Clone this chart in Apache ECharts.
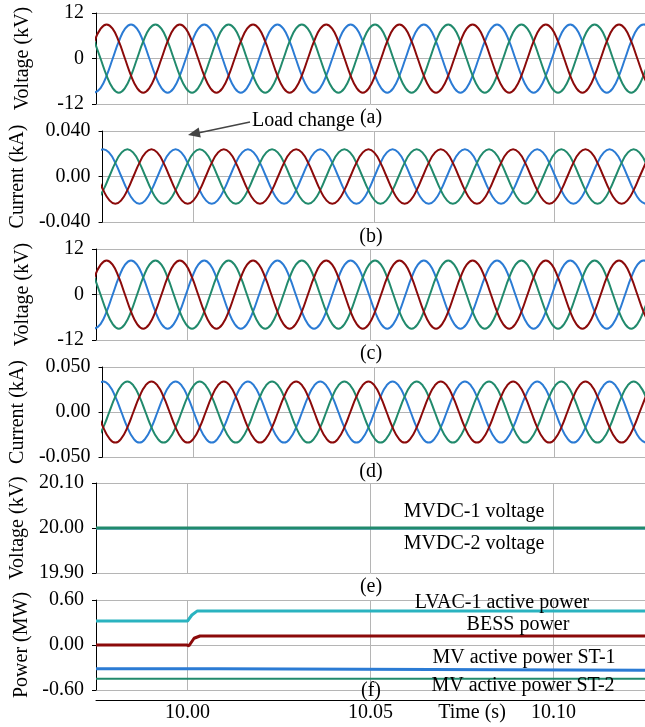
<!DOCTYPE html>
<html>
<head>
<meta charset="utf-8">
<script src="https://cdn.jsdelivr.net/npm/echarts@6/dist/echarts.min.js"></script>
<style>
html,body{margin:0;padding:0;background:#fff;}
#chart{width:645px;height:727px;}
</style>
</head>
<body>
<div id="chart"></div>
<script>
// ---- sample times (uniform 50 Hz sampling, 1/600 s) ----
const sampleStep = 1 / 600;
const voltStart = 9.97457;
const currStart = 9.97353;
const nSamples = 92;
const timeV = Array.from({length: nSamples}, (_, k) => voltStart + k * sampleStep);
const timeI = Array.from({length: nSamples}, (_, k) => currStart + k * sampleStep);

// ---- (a) voltage, kV ----
const voltA_red = [4.5,7.8,9,7.8,4.5,0,-4.5,-7.8,-9,-7.8,-4.5,0, 4.5,7.8,9,7.8,4.5,0,-4.5,-7.8,-9,-7.8,-4.5,0, 4.5,7.8,9,7.8,4.5,0,-4.5,-7.8,-9,-7.8,-4.5,0, 4.5,7.8,9,7.8,4.5,0,-4.5,-7.8,-9,-7.8,-4.5,0, 4.5,7.8,9,7.8,4.5,0,-4.5,-7.8,-9,-7.8,-4.5,0, 4.5,7.8,9,7.8,4.5,0,-4.5,-7.8,-9,-7.8,-4.5,0, 4.5,7.8,9,7.8,4.5,0,-4.5,-7.8,-9,-7.8,-4.5,0, 4.5,7.8,9,7.8,4.5,0,-4.5,-7.8];
const voltA_blue = [-9,-7.8,-4.5,0,4.5,7.8,9,7.8,4.5,0,-4.5,-7.8, -9,-7.8,-4.5,0,4.5,7.8,9,7.8,4.5,0,-4.5,-7.8, -9,-7.8,-4.5,0,4.5,7.8,9,7.8,4.5,0,-4.5,-7.8, -9,-7.8,-4.5,0,4.5,7.8,9,7.8,4.5,0,-4.5,-7.8, -9,-7.8,-4.5,0,4.5,7.8,9,7.8,4.5,0,-4.5,-7.8, -9,-7.8,-4.5,0,4.5,7.8,9,7.8,4.5,0,-4.5,-7.8, -9,-7.8,-4.5,0,4.5,7.8,9,7.8,4.5,0,-4.5,-7.8, -9,-7.8,-4.5,0,4.5,7.8,9,7.8];
const voltA_green = [4.5,0,-4.5,-7.8,-9,-7.8,-4.5,0,4.5,7.8,9,7.8, 4.5,0,-4.5,-7.8,-9,-7.8,-4.5,0,4.5,7.8,9,7.8, 4.5,0,-4.5,-7.8,-9,-7.8,-4.5,0,4.5,7.8,9,7.8, 4.5,0,-4.5,-7.8,-9,-7.8,-4.5,0,4.5,7.8,9,7.8, 4.5,0,-4.5,-7.8,-9,-7.8,-4.5,0,4.5,7.8,9,7.8, 4.5,0,-4.5,-7.8,-9,-7.8,-4.5,0,4.5,7.8,9,7.8, 4.5,0,-4.5,-7.8,-9,-7.8,-4.5,0,4.5,7.8,9,7.8, 4.5,0,-4.5,-7.8,-9,-7.8,-4.5,0];

// ---- (b) current, kA ----
const currB_blue = [0.0208,0.024,0.0208,0.012,0,-0.012,-0.0208,-0.024,-0.0208,-0.012,0,0.012, 0.0208,0.024,0.0208,0.012,0,-0.012,-0.0208,-0.024,-0.0208,-0.012,0,0.012, 0.0208,0.024,0.0208,0.012,0,-0.012,-0.0208,-0.024,-0.0208,-0.012,0,0.012, 0.0208,0.024,0.0208,0.012,0,-0.012,-0.0208,-0.024,-0.0208,-0.012,0,0.012, 0.0208,0.024,0.0208,0.012,0,-0.012,-0.0208,-0.024,-0.0208,-0.012,0,0.012, 0.0208,0.024,0.0208,0.012,0,-0.012,-0.0208,-0.024,-0.0208,-0.012,0,0.012, 0.0208,0.024,0.0208,0.012,0,-0.012,-0.0208,-0.024,-0.0208,-0.012,0,0.012, 0.0208,0.024,0.0208,0.012,0,-0.012,-0.0208,-0.024];
const currB_green = [-0.0208,-0.012,0,0.012,0.0208,0.024,0.0208,0.012,0,-0.012,-0.0208,-0.024, -0.0208,-0.012,0,0.012,0.0208,0.024,0.0208,0.012,0,-0.012,-0.0208,-0.024, -0.0208,-0.012,0,0.012,0.0208,0.024,0.0208,0.012,0,-0.012,-0.0208,-0.024, -0.0208,-0.012,0,0.012,0.0208,0.024,0.0208,0.012,0,-0.012,-0.0208,-0.024, -0.0208,-0.012,0,0.012,0.0208,0.024,0.0208,0.012,0,-0.012,-0.0208,-0.024, -0.0208,-0.012,0,0.012,0.0208,0.024,0.0208,0.012,0,-0.012,-0.0208,-0.024, -0.0208,-0.012,0,0.012,0.0208,0.024,0.0208,0.012,0,-0.012,-0.0208,-0.024, -0.0208,-0.012,0,0.012,0.0208,0.024,0.0208,0.012];
const currB_red = [0,-0.012,-0.0208,-0.024,-0.0208,-0.012,0,0.012,0.0208,0.024,0.0208,0.012, 0,-0.012,-0.0208,-0.024,-0.0208,-0.012,0,0.012,0.0208,0.024,0.0208,0.012, 0,-0.012,-0.0208,-0.024,-0.0208,-0.012,0,0.012,0.0208,0.024,0.0208,0.012, 0,-0.012,-0.0208,-0.024,-0.0208,-0.012,0,0.012,0.0208,0.024,0.0208,0.012, 0,-0.012,-0.0208,-0.024,-0.0208,-0.012,0,0.012,0.0208,0.024,0.0208,0.012, 0,-0.012,-0.0208,-0.024,-0.0208,-0.012,0,0.012,0.0208,0.024,0.0208,0.012, 0,-0.012,-0.0208,-0.024,-0.0208,-0.012,0,0.012,0.0208,0.024,0.0208,0.012, 0,-0.012,-0.0208,-0.024,-0.0208,-0.012,0,0.012];

// ---- (c) voltage, kV ----
const voltC_red = [4.5,7.8,9,7.8,4.5,0,-4.5,-7.8,-9,-7.8,-4.5,0, 4.5,7.8,9,7.8,4.5,0,-4.5,-7.8,-9,-7.8,-4.5,0, 4.5,7.8,9,7.8,4.5,0,-4.5,-7.8,-9,-7.8,-4.5,0, 4.5,7.8,9,7.8,4.5,0,-4.5,-7.8,-9,-7.8,-4.5,0, 4.5,7.8,9,7.8,4.5,0,-4.5,-7.8,-9,-7.8,-4.5,0, 4.5,7.8,9,7.8,4.5,0,-4.5,-7.8,-9,-7.8,-4.5,0, 4.5,7.8,9,7.8,4.5,0,-4.5,-7.8,-9,-7.8,-4.5,0, 4.5,7.8,9,7.8,4.5,0,-4.5,-7.8];
const voltC_blue = [-9,-7.8,-4.5,0,4.5,7.8,9,7.8,4.5,0,-4.5,-7.8, -9,-7.8,-4.5,0,4.5,7.8,9,7.8,4.5,0,-4.5,-7.8, -9,-7.8,-4.5,0,4.5,7.8,9,7.8,4.5,0,-4.5,-7.8, -9,-7.8,-4.5,0,4.5,7.8,9,7.8,4.5,0,-4.5,-7.8, -9,-7.8,-4.5,0,4.5,7.8,9,7.8,4.5,0,-4.5,-7.8, -9,-7.8,-4.5,0,4.5,7.8,9,7.8,4.5,0,-4.5,-7.8, -9,-7.8,-4.5,0,4.5,7.8,9,7.8,4.5,0,-4.5,-7.8, -9,-7.8,-4.5,0,4.5,7.8,9,7.8];
const voltC_green = [4.5,0,-4.5,-7.8,-9,-7.8,-4.5,0,4.5,7.8,9,7.8, 4.5,0,-4.5,-7.8,-9,-7.8,-4.5,0,4.5,7.8,9,7.8, 4.5,0,-4.5,-7.8,-9,-7.8,-4.5,0,4.5,7.8,9,7.8, 4.5,0,-4.5,-7.8,-9,-7.8,-4.5,0,4.5,7.8,9,7.8, 4.5,0,-4.5,-7.8,-9,-7.8,-4.5,0,4.5,7.8,9,7.8, 4.5,0,-4.5,-7.8,-9,-7.8,-4.5,0,4.5,7.8,9,7.8, 4.5,0,-4.5,-7.8,-9,-7.8,-4.5,0,4.5,7.8,9,7.8, 4.5,0,-4.5,-7.8,-9,-7.8,-4.5,0];

// ---- (d) current, kA ----
const currD_blue = [0.0294,0.034,0.0294,0.017,0,-0.017,-0.0294,-0.034,-0.0294,-0.017,0,0.017, 0.0294,0.034,0.0294,0.017,0,-0.017,-0.0294,-0.034,-0.0294,-0.017,0,0.017, 0.0294,0.034,0.0294,0.017,0,-0.017,-0.0294,-0.034,-0.0294,-0.017,0,0.017, 0.0294,0.034,0.0294,0.017,0,-0.017,-0.0294,-0.034,-0.0294,-0.017,0,0.017, 0.0294,0.034,0.0294,0.017,0,-0.017,-0.0294,-0.034,-0.0294,-0.017,0,0.017, 0.0294,0.034,0.0294,0.017,0,-0.017,-0.0294,-0.034,-0.0294,-0.017,0,0.017, 0.0294,0.034,0.0294,0.017,0,-0.017,-0.0294,-0.034,-0.0294,-0.017,0,0.017, 0.0294,0.034,0.0294,0.017,0,-0.017,-0.0294,-0.034];
const currD_green = [-0.0294,-0.017,0,0.017,0.0294,0.034,0.0294,0.017,0,-0.017,-0.0294,-0.034, -0.0294,-0.017,0,0.017,0.0294,0.034,0.0294,0.017,0,-0.017,-0.0294,-0.034, -0.0294,-0.017,0,0.017,0.0294,0.034,0.0294,0.017,0,-0.017,-0.0294,-0.034, -0.0294,-0.017,0,0.017,0.0294,0.034,0.0294,0.017,0,-0.017,-0.0294,-0.034, -0.0294,-0.017,0,0.017,0.0294,0.034,0.0294,0.017,0,-0.017,-0.0294,-0.034, -0.0294,-0.017,0,0.017,0.0294,0.034,0.0294,0.017,0,-0.017,-0.0294,-0.034, -0.0294,-0.017,0,0.017,0.0294,0.034,0.0294,0.017,0,-0.017,-0.0294,-0.034, -0.0294,-0.017,0,0.017,0.0294,0.034,0.0294,0.017];
const currD_red = [0,-0.017,-0.0294,-0.034,-0.0294,-0.017,0,0.017,0.0294,0.034,0.0294,0.017, 0,-0.017,-0.0294,-0.034,-0.0294,-0.017,0,0.017,0.0294,0.034,0.0294,0.017, 0,-0.017,-0.0294,-0.034,-0.0294,-0.017,0,0.017,0.0294,0.034,0.0294,0.017, 0,-0.017,-0.0294,-0.034,-0.0294,-0.017,0,0.017,0.0294,0.034,0.0294,0.017, 0,-0.017,-0.0294,-0.034,-0.0294,-0.017,0,0.017,0.0294,0.034,0.0294,0.017, 0,-0.017,-0.0294,-0.034,-0.0294,-0.017,0,0.017,0.0294,0.034,0.0294,0.017, 0,-0.017,-0.0294,-0.034,-0.0294,-0.017,0,0.017,0.0294,0.034,0.0294,0.017, 0,-0.017,-0.0294,-0.034,-0.0294,-0.017,0,0.017];

// ---- (e) DC voltages, kV ----
const dcTime = [9.975, 10.0, 10.05, 10.10, 10.125];
const mvdc1 = [20.0, 20.0, 20.0, 20.0, 20.0];
const mvdc2 = [19.999, 19.999, 19.999, 19.999, 19.999];

// ---- (f) powers, MW ----
const lvacTime = [9.975, 10.0, 10.0012, 10.0027, 10.125];
const lvacPower = [0.32, 0.32, 0.40, 0.455, 0.455];
const bessTime = [9.975, 9.9998, 10.0004, 10.0018, 10.0034, 10.125];
const bessPower = [0, 0, -0.01, 0.09, 0.12, 0.12];
const st1Time = [9.975, 10.0083, 10.0084, 10.125];
const st1Power = [-0.316, -0.316, -0.335, -0.335];
const st2Time = [9.975, 10.125];
const st2Power = [-0.45, -0.45];

// ---- labels ----
const panelLabels = ['(a)', '(b)', '(c)', '(d)', '(e)', '(f)'];
const yNames = ['Voltage (kV)', 'Current (kA)', 'Voltage (kV)', 'Current (kA)', 'Voltage (kV)', 'Power (MW)'];
const xTickLabels = ['10.00', '10.05', '10.10'];

// ---- styling / layout ----
const FONT = '"Liberation Serif", "Times New Roman", serif';
const RED = '#8b0a0a', BLUE = '#2b7bd4', GREEN = '#218a6c', CYAN = '#2ab3c0';
const GRID_COLOR = '#b5b5b5';
const grids = [
  {top: 13, height: 91}, {top: 131, height: 91}, {top: 249, height: 91},
  {top: 367, height: 90}, {top: 483, height: 90}, {top: 600, height: 90}
].map(g => Object.assign({left: 96, right: 0}, g));

const yRanges = [
  {min: -12, max: 12, interval: 12, fmt: v => String(v)},
  {min: -0.04, max: 0.04, interval: 0.04, fmt: v => Math.abs(v) < 1e-9 ? '0.00' : v.toFixed(3)},
  {min: -12, max: 12, interval: 12, fmt: v => String(v)},
  {min: -0.05, max: 0.05, interval: 0.05, fmt: v => Math.abs(v) < 1e-9 ? '0.00' : v.toFixed(3)},
  {min: 19.9, max: 20.1, interval: 0.1, fmt: v => v.toFixed(2)},
  {min: -0.6, max: 0.6, interval: 0.6, fmt: v => v.toFixed(2)}
];

const xAxes = grids.map((g, i) => {
  const last = i === grids.length - 1;
  return {
    type: 'value', gridIndex: i, min: 9.975, max: 10.125,
    splitNumber: 3, minInterval: 0.05, maxInterval: 0.05,
    offset: last ? 10 : 0,
    axisLine: {show: last, onZero: false, lineStyle: {color: '#000', width: 1}},
    axisTick: {show: false},
    axisLabel: {
      show: last, fontFamily: FONT, fontSize: 20, color: '#000', margin: 3,
      showMinLabel: false, showMaxLabel: false,
      formatter: v => { const s = v.toFixed(2); return xTickLabels.indexOf(s) >= 0 && Math.abs(v - parseFloat(s)) < 1e-6 ? s : ''; }
    },
    splitLine: {show: true, lineStyle: {color: GRID_COLOR, width: 1}}
  };
});

const yAxes = grids.map((g, i) => ({
  type: 'value', gridIndex: i,
  min: yRanges[i].min, max: yRanges[i].max, interval: yRanges[i].interval,
  name: yNames[i], nameLocation: 'middle', nameGap: 63,
  nameTextStyle: {fontFamily: FONT, fontSize: 20, color: '#000'},
  axisLine: {show: true, onZero: false, lineStyle: {color: '#000', width: 1}},
  axisTick: {show: true, length: 4, lineStyle: {color: '#000'}},
  axisLabel: {fontFamily: FONT, fontSize: 20, color: '#000', margin: 12, formatter: yRanges[i].fmt},
  splitLine: {show: true, lineStyle: {color: GRID_COLOR, width: 1}}
}));

function zip(t, v) { return t.map((x, k) => [x, v[k]]); }
function wave(idx, t, v, color, width, smooth) {
  return {
    type: 'line', xAxisIndex: idx, yAxisIndex: idx, data: zip(t, v),
    showSymbol: false, smooth: smooth, animation: false, silent: true,
    lineStyle: {color: color, width: width}, itemStyle: {color: color}
  };
}

const series = [
  wave(0, timeV, voltA_blue, BLUE, 2, true),
  wave(0, timeV, voltA_green, GREEN, 2, true),
  wave(0, timeV, voltA_red, RED, 2, true),
  wave(1, timeI, currB_blue, BLUE, 2, true),
  wave(1, timeI, currB_green, GREEN, 2, true),
  wave(1, timeI, currB_red, RED, 2, true),
  wave(2, timeV, voltC_blue, BLUE, 2, true),
  wave(2, timeV, voltC_green, GREEN, 2, true),
  wave(2, timeV, voltC_red, RED, 2, true),
  wave(3, timeI, currD_blue, BLUE, 2, true),
  wave(3, timeI, currD_green, GREEN, 2, true),
  wave(3, timeI, currD_red, RED, 2, true),
  wave(4, dcTime, mvdc2, BLUE, 2, false),
  wave(4, dcTime, mvdc1, GREEN, 3, false),
  wave(5, st2Time, st2Power, GREEN, 2, false),
  wave(5, st1Time, st1Power, BLUE, 3, false),
  wave(5, bessTime, bessPower, RED, 3, false),
  wave(5, lvacTime, lvacPower, CYAN, 3, false)
];

function txt(text, x, y, align) {
  return {type: 'text', silent: true, z: 100,
    style: {text: text, x: x, y: y, fill: '#000', font: '20px ' + FONT, align: align || 'center', verticalAlign: 'middle'}};
}
const labelPos = [[371, 118], [371, 237], [371, 354], [371, 472], [371, 587], [371, 691]];
const graphic = panelLabels.map((l, i) => txt(l, labelPos[i][0], labelPos[i][1]));
graphic.push(txt('MVDC-1 voltage', 474, 512));
graphic.push(txt('MVDC-2 voltage', 474, 544));
graphic.push(txt('LVAC-1 active power', 502, 603));
graphic.push(txt('BESS power', 518, 625));
graphic.push(txt('MV active power ST-1', 524, 658));
graphic.push(txt('MV active power ST-2', 523, 686));
graphic.push(txt('Time (s)', 472, 713));
graphic.push(txt('Load change', 252, 121, 'left'));
// arrow
graphic.push({type: 'line', silent: true, z: 100, shape: {x1: 250, y1: 122, x2: 198, y2: 133}, style: {stroke: '#444', lineWidth: 1.5}});
graphic.push({type: 'polygon', silent: true, z: 100, shape: {points: [[188, 135], [200.8, 137.6], [198.7, 127.4]]}, style: {fill: '#444'}});

const chart = echarts.init(document.getElementById('chart'), null, {renderer: 'canvas'});
chart.setOption({
  animation: false,
  backgroundColor: '#fff',
  grid: grids,
  xAxis: xAxes,
  yAxis: yAxes,
  series: series,
  graphic: graphic
});
</script>
</body>
</html>
